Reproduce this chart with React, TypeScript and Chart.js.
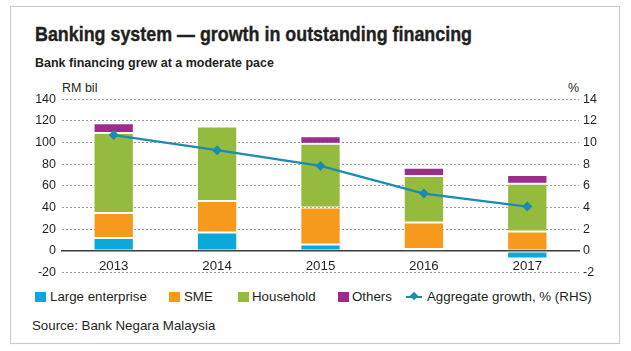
import React, { useEffect, useRef } from 'react';
import { Chart, registerables } from 'chart.js';

Chart.register(...registerables);

const years = ['2013', '2014', '2015', '2016', '2017'];
const largeEnterprise = [12, 17, 6, 1.8, -7];
const sme = [23, 29, 34, 24.5, 18];
const household = [74, 69, 59, 43, 44];
const others = [9, 0, 7, 7.5, 8];
const aggregateGrowth = [10.7, 9.3, 7.85, 5.3, 4.1];

const leftMin = -20;
const leftMax = 140;
const leftStep = 20;
const rightMin = -2;
const rightMax = 14;
const rightStep = 2;

const C_LE = '#0ba9d9';
const C_SME = '#f7991d';
const C_HH = '#95bb3e';
const C_OTH = '#9d2b8c';
const C_LINE = '#1a8cb4';
const TXT = '#231f20';
const FONT = "'Liberation Sans', Arial, sans-serif";

export default function App() {
  const ref = useRef<HTMLCanvasElement | null>(null);

  useEffect(() => {
    const canvas = ref.current;
    if (!canvas) return;
    const barCommon = {
      stack: 's',
      yAxisID: 'y',
      order: 2,
      categoryPercentage: 1,
      barPercentage: 0.39,
      borderWidth: 1,
      borderColor: 'rgba(255,255,255,0.25)',
      borderSkipped: false,
    };
    const chart = new Chart(canvas, {
      type: 'bar',
      data: {
        labels: years,
        datasets: [
          { ...barCommon, label: 'Large enterprise', data: largeEnterprise, backgroundColor: C_LE },
          { ...barCommon, label: 'SME', data: sme, backgroundColor: C_SME },
          { ...barCommon, label: 'Household', data: household, backgroundColor: C_HH },
          { ...barCommon, label: 'Others', data: others, backgroundColor: C_OTH },
          {
            type: 'line',
            label: 'Aggregate growth, % (RHS)',
            data: aggregateGrowth,
            yAxisID: 'y1',
            order: 0,
            borderColor: C_LINE,
            backgroundColor: C_LINE,
            borderWidth: 2.3,
            tension: 0,
            pointStyle: 'rectRot',
            pointRadius: 5,
            pointBorderWidth: 0,
            pointBackgroundColor: C_LINE,
          } as any,
        ],
      },
      options: {
        animation: false,
        responsive: false,
        devicePixelRatio: 1,
        layout: { padding: { top: 21.3, bottom: 15.4, left: 0, right: 0 } },
        plugins: { legend: { display: false }, tooltip: { enabled: false }, title: { display: false } },
        scales: {
          x: {
            position: { y: 0 } as any,
            offset: true,
            grid: { display: true, color: 'rgba(0,0,0,0)', drawTicks: false },
            border: { display: true, color: '#3a3a3a', width: 1.5 },
            ticks: { color: TXT, font: { family: FONT, size: 13.3 }, padding: 7 },
          },
          y: {
            position: 'left',
            stacked: true,
            min: leftMin,
            max: leftMax,
            ticks: { stepSize: leftStep, color: TXT, font: { family: FONT, size: 12.5 }, padding: 6 },
            grid: {
              drawTicks: false,
              color: (ctx: any) => (ctx.tick && ctx.tick.value === 0 ? 'rgba(0,0,0,0)' : '#9a9a9a'),
              lineWidth: 1,
            },
            border: { display: false, dash: [2, 2] },
            afterFit: (s: any) => { s.width = 52; },
          },
          y1: {
            position: 'right',
            min: rightMin,
            max: rightMax,
            ticks: { stepSize: rightStep, color: TXT, font: { family: FONT, size: 12.5 }, padding: 4 },
            grid: { display: false, drawTicks: false },
            border: { display: false },
            afterFit: (s: any) => { s.width = 41; },
          },
        },
      } as any,
    });
    return () => chart.destroy();
  }, []);

  const sq = (left: number, color: string) => (
    <div style={{ position: 'absolute', left, top: 291.5, width: 11, height: 10.5, background: color }} />
  );
  const lt = (left: number, text: string) => (
    <div style={{ position: 'absolute', left, top: 288, fontSize: 13.3, lineHeight: '17px', fontFamily: FONT, color: TXT, whiteSpace: 'nowrap' }}>{text}</div>
  );

  return (
    <div style={{ position: 'absolute', left: 0, top: 0, width: 631, height: 351, background: '#fff', overflow: 'hidden' }}>
      <div style={{ position: 'absolute', left: 10, top: 6, width: 608, height: 336, border: '1px solid #c9c9c9', boxShadow: '0 0 1px rgba(0,0,0,0.1)' }} />
      <div style={{ position: 'absolute', left: 35, top: 21, fontFamily: FONT, fontWeight: 'bold', fontSize: 20.5, lineHeight: '26px', color: TXT, whiteSpace: 'nowrap', transform: 'scaleX(0.872)', transformOrigin: '0 0', WebkitTextStroke: '0.4px ' + TXT }}>
        Banking system — growth in outstanding financing
      </div>
      <div style={{ position: 'absolute', left: 35, top: 55, fontFamily: FONT, fontWeight: 'bold', fontSize: 12.5, lineHeight: '16px', color: TXT, whiteSpace: 'nowrap' }}>
        Bank financing grew at a moderate pace
      </div>
      <div style={{ position: 'absolute', left: 62, top: 81, fontFamily: FONT, fontSize: 12.5, lineHeight: '15px', color: TXT }}>RM bil</div>
      <div style={{ position: 'absolute', left: 568, top: 81, fontFamily: FONT, fontSize: 12.5, lineHeight: '15px', color: TXT }}>%</div>
      <canvas ref={ref} width={610} height={210} style={{ position: 'absolute', left: 10, top: 78, width: 610, height: 210 }} />
      {sq(35, C_LE)}
      {lt(50, 'Large enterprise')}
      {sq(169, C_SME)}
      {lt(184, 'SME')}
      {sq(238, C_HH)}
      {lt(252, 'Household')}
      {sq(338, C_OTH)}
      {lt(352, 'Others')}
      <div style={{ position: 'absolute', left: 406, top: 295.5, width: 16, height: 2, background: C_LINE }} />
      <div style={{ position: 'absolute', left: 410.5, top: 293, width: 6, height: 6, background: C_LINE, transform: 'rotate(45deg)' }} />
      {lt(427, 'Aggregate growth, % (RHS)')}
      <div style={{ position: 'absolute', left: 32, top: 317, fontFamily: FONT, fontSize: 13.3, lineHeight: '17px', color: TXT, whiteSpace: 'nowrap' }}>
        Source: Bank Negara Malaysia
      </div>
    </div>
  );
}
